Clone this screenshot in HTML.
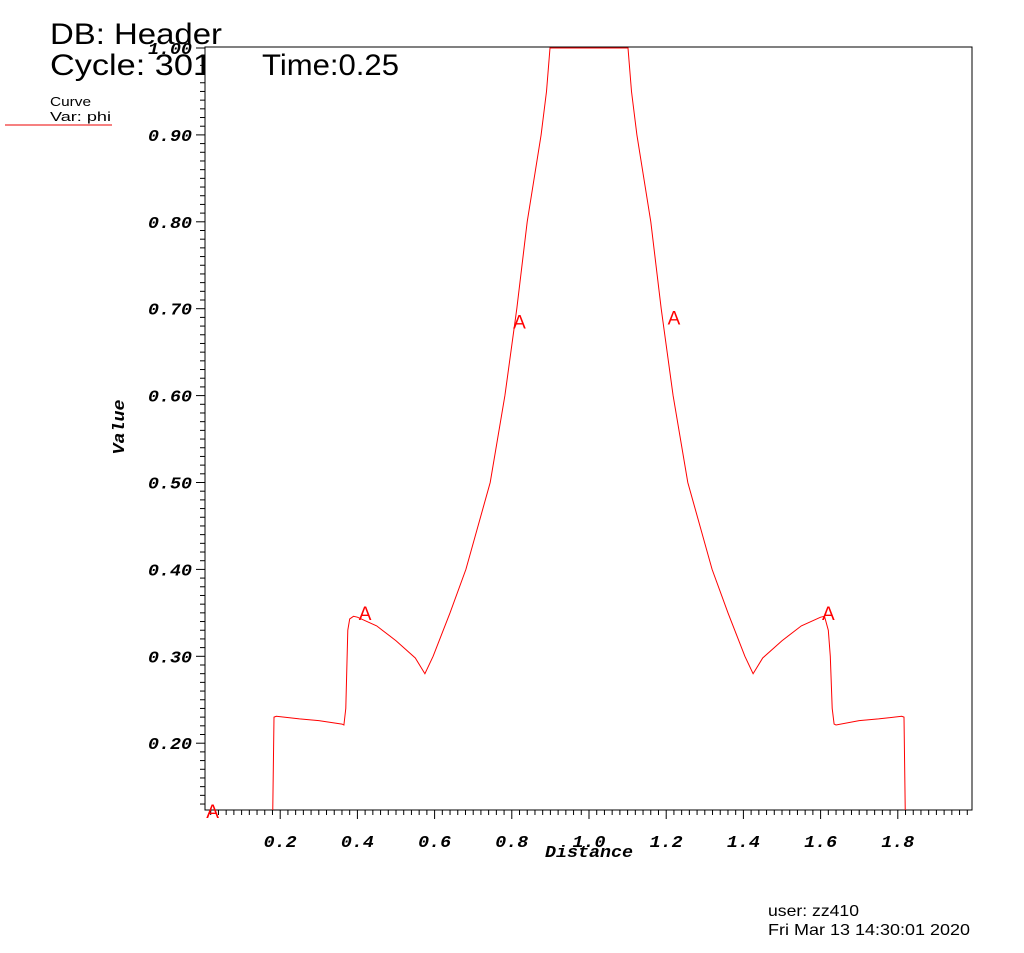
<!DOCTYPE html>
<html><head><meta charset="utf-8"><style>
html,body{margin:0;padding:0;background:#fff;}
svg{display:block;}
.t{font-family:"Liberation Sans",sans-serif;fill:#000;}
.m{font-family:"Liberation Mono",monospace;font-weight:bold;font-style:italic;fill:#000;}
</style></head><body>
<svg id="chart" width="1024" height="953" xmlns="http://www.w3.org/2000/svg">
<text class="t" x="50" y="44" font-size="30" textLength="172" lengthAdjust="spacingAndGlyphs">DB: Header</text>
<text class="t" x="50" y="75" font-size="30" textLength="162" lengthAdjust="spacingAndGlyphs">Cycle: 301</text>
<text class="t" x="50" y="106" font-size="13" textLength="41" lengthAdjust="spacingAndGlyphs">Curve</text>
<text class="t" x="50" y="121" font-size="13" textLength="61" lengthAdjust="spacingAndGlyphs">Var: phi</text>
<line x1="5" y1="125" x2="112" y2="125" stroke="#e00" stroke-width="1"/>
<text class="t" x="768" y="916" font-size="16" textLength="91" lengthAdjust="spacingAndGlyphs">user: zz410</text>
<text class="t" x="768" y="935" font-size="16" textLength="202" lengthAdjust="spacingAndGlyphs">Fri Mar 13 14:30:01 2020</text>
<rect x="205" y="47" width="767" height="763" fill="#fff"/>
<text class="t" x="262" y="75" font-size="30" textLength="137" lengthAdjust="spacingAndGlyphs">Time:0.25</text>
<g id="axes"></g>
<g id="plot"></g>
<text class="m" x="589" y="857" font-size="17" text-anchor="middle" textLength="88" lengthAdjust="spacingAndGlyphs">Distance</text>
<text class="m" x="124" y="427" font-size="17" text-anchor="middle" transform="rotate(-90 124 427)" textLength="55" lengthAdjust="spacingAndGlyphs">Value</text>
</svg>
<script>
const xs=[0.005,0.18,0.184,0.19,0.25,0.30,0.36,0.365,0.37,0.375,0.38,0.39,0.40,0.45,0.50,0.55,0.575,0.596,0.64,0.681,0.744,0.782,0.813,0.84,0.876,0.89,0.899,1.0,1.101,1.11,1.124,1.16,1.187,1.218,1.256,1.319,1.36,1.404,1.425,1.45,1.50,1.55,1.60,1.61,1.62,1.625,1.63,1.635,1.64,1.70,1.75,1.81,1.816,1.82,1.995];
const ys=[0.10,0.10,0.23,0.231,0.228,0.226,0.222,0.221,0.24,0.33,0.343,0.346,0.345,0.335,0.318,0.298,0.28,0.30,0.35,0.40,0.50,0.60,0.70,0.80,0.90,0.95,1.0,1.0,1.0,0.95,0.90,0.80,0.70,0.60,0.50,0.40,0.35,0.30,0.28,0.298,0.318,0.335,0.345,0.346,0.33,0.30,0.24,0.222,0.221,0.226,0.228,0.231,0.23,0.10,0.10];
const markX=[0.025,0.42,0.82,1.22,1.62];
const markY=[0.122,0.350,0.685,0.69,0.350];
const xTicks=[0.2,0.4,0.6,0.8,1.0,1.2,1.4,1.6,1.8];
const xTickLabels=["0.2","0.4","0.6","0.8","1.0","1.2","1.4","1.6","1.8"];
const yTicks=[0.2,0.3,0.4,0.5,0.6,0.7,0.8,0.9,1.0];
const yTickLabels=["0.20","0.30","0.40","0.50","0.60","0.70","0.80","0.90","1.00"];
const L=205,R=972,T=47,B=810;
const X=v=>203+v*386, Y=v=>48+(1-v)*869;
const NS="http://www.w3.org/2000/svg";
const ax=document.getElementById('axes'), pl=document.getElementById('plot');
function mk(tag,attrs,parent){const e=document.createElementNS(NS,tag);for(const k in attrs)e.setAttribute(k,attrs[k]);parent.appendChild(e);return e;}
const frame=mk('rect',{x:L,y:T,width:R-L,height:B-T,fill:'none',stroke:'#000','stroke-width':1},ax);


for(let i=1;i<100;i++){const v=i*0.02;const px=X(v);if(px<L||px>R)continue;
 const major=i%10===0;
 const t=mk('line',{x1:px,y1:B,x2:px,y2:B+(major?9:5),stroke:'#000'},ax);
 
 }
for(let i=12;i<=100;i++){const v=i*0.01;const py=Y(v);if(py<T-1||py>B)continue;
 const major=i%10===0;
 const t=mk('line',{x1:L,y1:py,x2:L-(major?9:5),y2:py,stroke:'#000'},ax);
 
 }
xTicks.forEach((v,i)=>{const t=mk('text',{x:X(v),y:B+37,'font-size':17,'text-anchor':'middle',class:'m',textLength:33,lengthAdjust:'spacingAndGlyphs'},ax);t.textContent=xTickLabels[i];
 
 });
yTicks.forEach((v,i)=>{const t=mk('text',{x:192,y:Y(v)+6,'font-size':17,'text-anchor':'end',class:'m',textLength:44,lengthAdjust:'spacingAndGlyphs'},ax);t.textContent=yTickLabels[i];
 
 });
mk('clipPath',{id:'clp'},pl);
mk('rect',{x:L,y:T,width:R-L,height:B-T},pl.lastChild);
const d=xs.map((v,i)=>(i?'L':'M')+X(v).toFixed(1)+','+Y(ys[i]).toFixed(1)).join(' ');
const path=mk('path',{d:d,fill:'none',stroke:'#f00','stroke-width':1,'clip-path':'url(#clp)'},pl);


markX.forEach((v,i)=>{const t=mk('text',{x:X(v),y:Y(markY[i])+7,'font-size':19,'text-anchor':'middle',fill:'#f00','font-family':'Liberation Sans, sans-serif'},pl);t.textContent='A';
 
 });
</script>
</body></html>
